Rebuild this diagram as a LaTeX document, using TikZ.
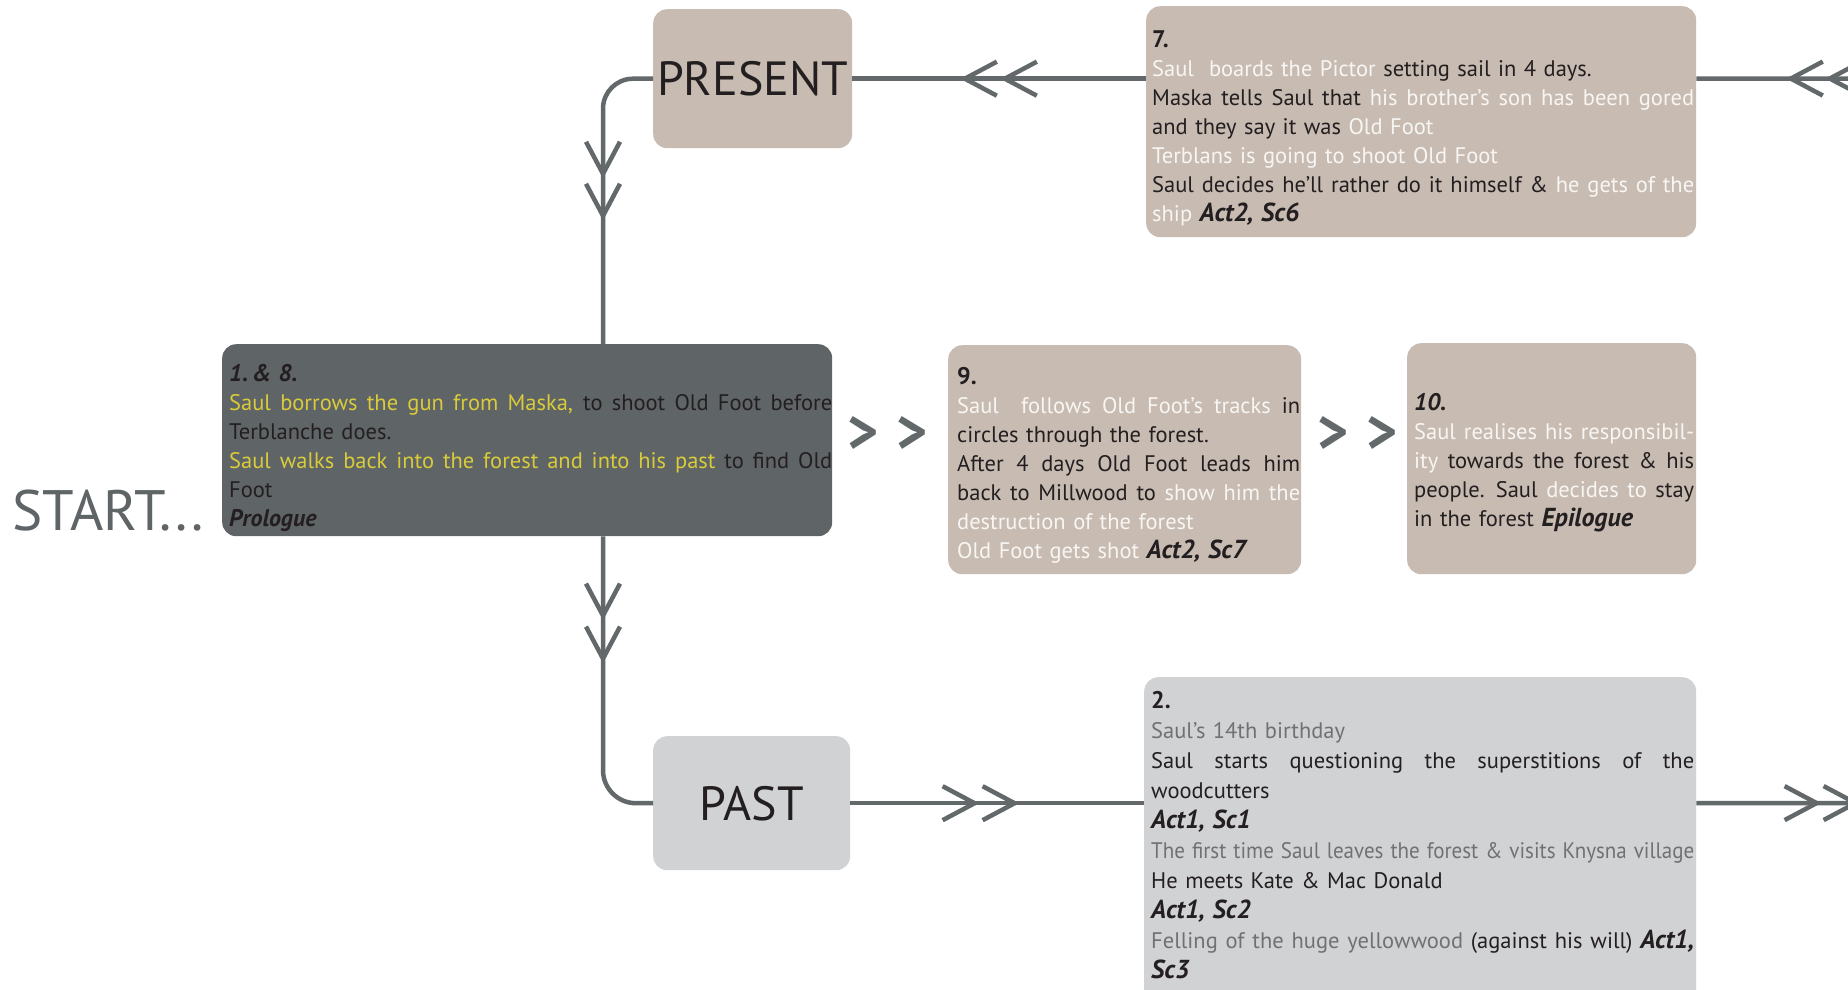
\documentclass[tikz,border=0pt]{standalone}
\usepackage{fontspec}
\setmainfont{PT Sans}
\usepackage{graphicx}
\usetikzlibrary{arrows.meta,decorations.markings}
\definecolor{taupe}{HTML}{C8BBB2}
\definecolor{slate}{HTML}{5F6466}
\definecolor{pale}{HTML}{D1D2D4}
\definecolor{linec}{HTML}{63686A}
\definecolor{ink}{HTML}{231F20}
\definecolor{hl}{HTML}{D9CB3A}
\definecolor{wt}{HTML}{F8F6F3}
\definecolor{gt}{HTML}{707174}
\newsavebox\jlbox
\newcommand\jl[2]{\sbox\jlbox{#2}\ifdim\wd\jlbox>#1\relax\resizebox{#1}{\ht\jlbox}{\usebox\jlbox}\else\leavevmode\hbox to #1{\spaceskip=\fontdimen2\font plus 1fil\relax#2}\fi}
\newcommand\actx[1]{{\fontsize{26}{29}\selectfont\bfseries\itshape #1}}
\newcommand\hdx[1]{{\fontsize{24}{29}\selectfont\bfseries #1}}
\newcommand\wtx[1]{\textcolor{wt}{#1}}
\newcommand\ytx[1]{\textcolor{hl}{#1}}
\newcommand\gtx[1]{\textcolor{gt}{#1}}
\tikzset{
  conn/.style={draw=linec, line width=4.5pt, line cap=butt},
  chev/.tip={Straight Barb[length=32pt,width=34pt]},
  dbl/.style 2 args={postaction={decorate,decoration={markings,
      mark=at position #1 with {\arrow{chev}},
      mark=at position #2 with {\arrow{chev}}}}},
  boxbase/.style={rounded corners=14pt, inner sep=0pt, anchor=north west, draw=none},
  txt/.style={inner sep=0pt, anchor=north west, align=left, text=ink,
      font=\fontsize{22.5}{29}\selectfont},
  lbl/.style={font=\fontsize{48}{48}\selectfont, text=ink},
  glyph/.style={text=linec, inner sep=0pt, font=\bfseries}
}
\begin{document}
\begin{tikzpicture}[x=1pt,y=-1pt]
\useasboundingbox (0,0) rectangle (1848,989);
\clip (0,0) rectangle (1848,989);

% boxes
\node[boxbase, fill=taupe, minimum width=199pt, minimum height=139pt, lbl] (present) at (653,9) {PRESENT};
\node[boxbase, fill=pale, minimum width=197pt, minimum height=134pt, lbl] (past) at (653,736) {PAST};
\node[boxbase, fill=taupe, minimum width=550pt, minimum height=231pt] (b7) at (1146,6) {};
\node[boxbase, fill=slate, minimum width=610pt, minimum height=192pt] (b18) at (222,344) {};
\node[boxbase, fill=taupe, minimum width=353pt, minimum height=229pt] (b9) at (948,345) {};
\node[boxbase, fill=taupe, minimum width=289pt, minimum height=231pt] (b10) at (1407,343) {};
\node[boxbase, fill=pale, minimum width=552pt, minimum height=400pt] (b2) at (1144,677) {};

\node[anchor=base west, inner sep=0pt, text=slate, font=\fontsize{57}{57}\selectfont] (start) at (12,530) {START...};

% texts
\node[txt, text width=542pt] (t7) at (1152,27) {\rule{0pt}{20pt}\hdx{7.}\\
\wtx{Saul\ \ boards the Pictor} setting sail in 4 days.\\
\jl{542pt}{Maska tells Saul that \wtx{his brother’s son has been gored}}\\
and they say it was \wtx{Old Foot}\\
\wtx{Terblans is going to shoot Old Foot}\\
\jl{542pt}{Saul decides he’ll rather do it himself \& \wtx{he gets of the}}\\
\wtx{ship} \actx{Act2, Sc6}};

\node[txt, text width=603pt] (t18) at (229,361) {\rule{0pt}{20pt}\hdx{\itshape 1.\,\& 8.}\\
\jl{603pt}{\ytx{Saul borrows the gun from Maska,} to shoot Old Foot before}\\
Terblanche does.\\
\jl{603pt}{\ytx{Saul walks back into the forest and into his past} to find Old}\\
Foot\\
\hdx{\itshape Prologue}};

\node[txt, text width=343pt] (t9) at (957,364) {\rule{0pt}{20pt}\hdx{9.}\\
\jl{343pt}{\wtx{Saul\ \ follows Old Foot’s tracks} in}\\
circles through the forest.\\
\jl{343pt}{After 4 days Old Foot leads him}\\
\jl{343pt}{back to Millwood to \wtx{show him the}}\\
\wtx{destruction of the forest}\\
\wtx{Old Foot gets shot} \actx{Act2, Sc7}};

\node[txt, text width=280pt] (t10) at (1414,390) {\rule{0pt}{20pt}\hdx{\itshape 10.}\\
\jl{280pt}{\wtx{Saul realises his responsibil-}}\\
\jl{280pt}{\wtx{ity} towards the forest \& his}\\
\jl{280pt}{people. Saul \wtx{decides to} stay}\\
in the forest \actx{Epilogue}};

\node[txt, text width=543pt, font=\fontsize{22.5}{30}\selectfont] (t2) at (1151,688) {\rule{0pt}{20pt}\hdx{2.}\\
\gtx{Saul’s 14th birthday}\\
\jl{543pt}{Saul starts questioning the superstitions of the}\\
woodcutters\\
\actx{Act1, Sc1}\\
\jl{543pt}{\gtx{The first time Saul leaves the forest \& visits Knysna village}}\\
He meets Kate \& Mac Donald\\
\actx{Act1, Sc2}\\
\jl{543pt}{\gtx{Felling of the huge yellowwood} (against his will) \actx{Act1,}}\\
\actx{Sc3}};

% chevron glyphs between boxes
\node[glyph] (g1) at (887.5,435) {\resizebox{80pt}{37pt}{>\kern3pt>}};
\node[glyph] (g2) at (1357.5,435) {\resizebox{80pt}{37pt}{>\kern3pt>}};

% connectors
\coordinate (inR) at (1880,78.5);
\coordinate (outR) at (1880,803);
\draw[conn, dbl={55pt}{94pt}] (inR) -- (b7.east |- present.east);
\draw[conn, dbl={146pt}{186pt}] (b7.west |- present.east) -- (present.east);
\draw[conn, rounded corners=30pt, dbl={137pt}{179pt}] (present.west) -| ([xshift=381pt]b18.north west);
\draw[conn, rounded corners=33pt, dbl={84pt}{127pt}] ([xshift=381pt]b18.south west) |- (past.west);
\draw[conn, dbl={129pt}{169pt}] (past.east) -- (b2.west |- past.east);
\draw[conn, dbl={125pt}{164pt}] (b2.east |- past.east) -- (outR);
\end{tikzpicture}
\end{document}
